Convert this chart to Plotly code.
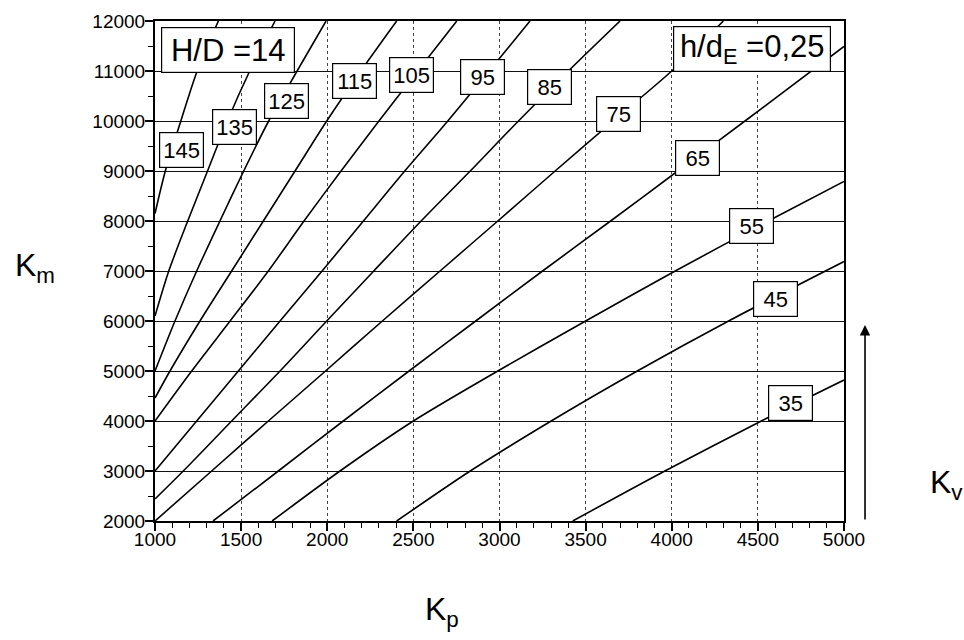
import plotly.graph_objects as go

# ---------------- data ----------------
KV_LEVELS = [35, 45, 55, 65, 75, 85, 95, 105, 115, 125, 135, 145]

KP_35 = [3425, 3960, 4520, 5000]
KM_35 = [2000, 3000, 4000, 4820]
KP_45 = [2403, 2830, 3300, 3800, 4330, 5000]
KM_45 = [2000, 3000, 4000, 5000, 6000, 7190]
KP_55 = [1680, 2074, 2500, 2990, 3500, 4020, 4560, 5000]
KM_55 = [2000, 3000, 4000, 5000, 6000, 7000, 8000, 8793]
KP_65 = [1337, 1716, 2093, 2475, 2862, 3250, 3645, 4035, 4425, 5000]
KM_65 = [2000, 3000, 4000, 5000, 6000, 7000, 8000, 9000, 10000, 11490]
KP_75 = [1000, 1329, 1658, 1990, 2320, 2655, 2990, 3323, 3660, 4000, 4300]
KM_75 = [2000, 3000, 4000, 5000, 6000, 7000, 8000, 9000, 10000, 11000, 12000]
KP_85 = [1000, 1164, 1445, 1726, 1997, 2270, 2545, 2830, 3110, 3400, 3700]
KM_85 = [2440, 3000, 4000, 5000, 6000, 7000, 8000, 9000, 10000, 11000, 12000]
KP_95 = [1000, 1242, 1484, 1726, 1970, 2210, 2450, 2700, 2940, 3177]
KM_95 = [3000, 4000, 5000, 6000, 7000, 8000, 9000, 10000, 11000, 12000]
KP_105 = [1000, 1213, 1436, 1658, 1865, 2080, 2300, 2525, 2752]
KM_105 = [4000, 5000, 6000, 7000, 8000, 9000, 10000, 11000, 12000]
KP_115 = [1000, 1087, 1261, 1445, 1629, 1813, 1997, 2195, 2403]
KM_115 = [4460, 5000, 6000, 7000, 8000, 9000, 10000, 11000, 12000]
KP_125 = [1000, 1116, 1242, 1377, 1515, 1660, 1825, 1993]
KM_125 = [5000, 6000, 7000, 8000, 9000, 10000, 11000, 12000]
KP_135 = [1000, 1080, 1190, 1305, 1420, 1550, 1697]
KM_135 = [6100, 7000, 8000, 9000, 10000, 11000, 12000]
KP_145 = [1000, 1060, 1150, 1245, 1368]
KM_145 = [8150, 9000, 10000, 11000, 12000]

CURVES = {
    35: (KP_35, KM_35), 45: (KP_45, KM_45), 55: (KP_55, KM_55),
    65: (KP_65, KM_65), 75: (KP_75, KM_75), 85: (KP_85, KM_85),
    95: (KP_95, KM_95), 105: (KP_105, KM_105), 115: (KP_115, KM_115),
    125: (KP_125, KM_125), 135: (KP_135, KM_135), 145: (KP_145, KM_145),
}

X_TICKS = [1000, 1500, 2000, 2500, 3000, 3500, 4000, 4500, 5000]
Y_TICKS = [2000, 3000, 4000, 5000, 6000, 7000, 8000, 9000, 10000, 11000, 12000]

# label anchor positions (layout only)
LABEL_POS = {
    145: (1154, 9425), 135: (1459, 9884), 125: (1763, 10403),
    115: (2161, 10802), 105: (2489, 10912), 95: (2899, 10882),
    85: (3289, 10683), 75: (3692, 10147), 65: (4151, 9265),
    55: (4462, 7898), 45: (4601, 6441), 35: (4692, 4361),
}

SANS = "Liberation Sans, Arial, Helvetica, sans-serif"

fig = go.Figure()
for kv in KV_LEVELS:
    xs, ys = CURVES[kv]
    fig.add_trace(go.Scatter(
        x=xs, y=ys, mode="lines",
        line=dict(color="black", width=1.6, shape="spline", smoothing=0.8),
        showlegend=False, hoverinfo="skip",
    ))

annotations = []
for kv in KV_LEVELS:
    x, y = LABEL_POS[kv]
    annotations.append(dict(
        x=x, y=y, xref="x", yref="y", text=str(kv), showarrow=False,
        font=dict(family=SANS, size=22, color="black"),
        bgcolor="white", bordercolor="black", borderwidth=1.2, borderpad=2,
        width=39, height=30,
    ))

annotations.append(dict(
    x=1424, y=11421, xref="x", yref="y", text="H/D =14", showarrow=False,
    font=dict(family=SANS, size=31, color="black"),
    bgcolor="white", bordercolor="black", borderwidth=1.2, borderpad=3,
    width=126, height=38,
))
annotations.append(dict(
    x=4466, y=11431, xref="x", yref="y", text="h/d<sub>E</sub> =0,25", showarrow=False,
    font=dict(family=SANS, size=31, color="black"),
    bgcolor="white", bordercolor="black", borderwidth=1.2, borderpad=3,
    width=150, height=38,
))

# axis titles
annotations.append(dict(x=-0.206, y=0.508, xref="paper", yref="paper",
                        text="K<sub>m</sub>", showarrow=False,
                        font=dict(family=SANS, size=32, color="black")))
annotations.append(dict(x=0.4165, y=-0.226, xref="paper", yref="paper",
                        text="K<sub>p</sub>", showarrow=False,
                        font=dict(family=SANS, size=32, color="black")))
annotations.append(dict(x=1.176, y=0.028, xref="paper", yref="paper",
                        text="K<sub>v</sub>", showarrow=False,
                        font=dict(family=SANS, size=32, color="black")))
# arrow
annotations.append(dict(x=1.0305, y=0.392, xref="paper", yref="paper",
                        ax=0, ay=196, axref="pixel", ayref="pixel",
                        text="", showarrow=True, arrowhead=2, arrowsize=1.3,
                        arrowwidth=1.6, arrowcolor="black"))

fig.update_layout(
    width=964, height=640,
    margin=dict(l=155, r=120, t=21, b=119),
    paper_bgcolor="white", plot_bgcolor="white",
    annotations=annotations,
    showlegend=False,
)

fig.update_xaxes(
    range=[1000, 5000], tickmode="array", tickvals=X_TICKS,
    tickformat="d", ticks="outside", ticklen=8, tickwidth=1.5, tickcolor="black",
    ticklabelstandoff=-8,
    tickfont=dict(family=SANS, size=19, color="black"),
    showgrid=True, gridcolor="#444", griddash="dot", gridwidth=1,
    showline=True, linecolor="black", linewidth=2, mirror=True,
    zeroline=False,
    minor=dict(dtick=100, tick0=1000, ticks="outside", ticklen=5, tickwidth=1.3,
               tickcolor="black", showgrid=False),
)
fig.update_yaxes(
    range=[2000, 12000], tickmode="array", tickvals=Y_TICKS,
    tickformat="d", ticks="outside", ticklen=8, tickwidth=1.5, tickcolor="black",
    ticklabelstandoff=-4,
    tickfont=dict(family=SANS, size=19, color="black"),
    showgrid=True, gridcolor="#111", gridwidth=1.3,
    showline=True, linecolor="black", linewidth=2, mirror=True,
    zeroline=False,
    minor=dict(dtick=500, tick0=2000, ticks="outside", ticklen=5, tickwidth=1.3,
               tickcolor="black", showgrid=False),
)

fig.write_html("out.html")
